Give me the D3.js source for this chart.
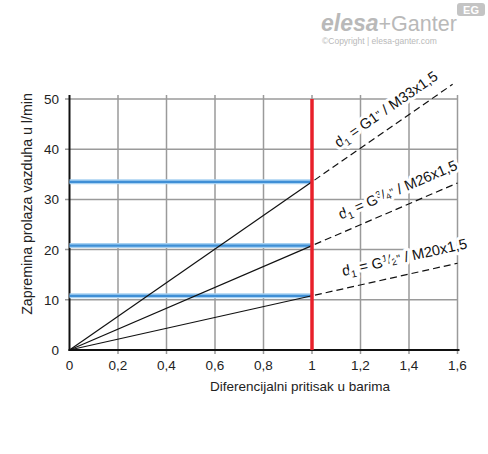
<!DOCTYPE html>
<html>
<head>
<meta charset="utf-8">
<script src="https://cdn.jsdelivr.net/npm/d3@7"></script>
<style>
  body { margin: 0; background: #fff; }
  svg text { font-family: "Liberation Sans", Arial, sans-serif; }
</style>
</head>
<body>
<div id="chart"></div>
<script>
// chart data
var xTicks = [0, 0.2, 0.4, 0.6, 0.8, 1, 1.2, 1.4, 1.6];
var yTicks = [0, 10, 20, 30, 40, 50];
var refPressure = 1;
var flows = [33.5, 20.8, 10.8];           // l/min at 1 bar
var dashEnds = [1.58, 1.6, 1.6];          // where the dashed extension stops
var sizeWhole = ["1", "", ""];            // G1"
var sizeNum = ["", "3", "1"];             // G3/4", G1/2"
var sizeDen = ["", "4", "2"];
var threads = ["M33x1,5", "M26x1,5", "M20x1,5"];

var svgWidth = 488;
var svgHeight = 454;

var svg = d3.select("#chart")
  .append("svg")
  .attr("width", svgWidth)
  .attr("height", svgHeight);

var x = d3.scaleLinear().domain([0, 1.6]).range([69.5, 457.5]);
var y = d3.scaleLinear().domain([0, 50]).range([350, 99]);

var grey = "#9a9a9a";

// grid
svg.append("g").selectAll("line")
  .data(xTicks.slice(1))
  .enter().append("line")
  .attr("x1", d => x(d)).attr("x2", d => x(d))
  .attr("y1", 95).attr("y2", 354)
  .attr("stroke", grey).attr("stroke-width", 1.5);

svg.append("g").selectAll("line")
  .data(yTicks.slice(1))
  .enter().append("line")
  .attr("x1", 65).attr("x2", x(1.6))
  .attr("y1", d => y(d)).attr("y2", d => y(d))
  .attr("stroke", grey).attr("stroke-width", 1.5);

// axes (black)
svg.append("line")
  .attr("x1", x(0)).attr("x2", x(0))
  .attr("y1", 95).attr("y2", y(0) + 1)
  .attr("stroke", "#111").attr("stroke-width", 2);
svg.append("line")
  .attr("x1", x(0) - 1).attr("x2", x(1.6) + 2)
  .attr("y1", y(0)).attr("y2", y(0))
  .attr("stroke", "#111").attr("stroke-width", 2);

// tick labels
svg.append("g").selectAll("text")
  .data(xTicks)
  .enter().append("text")
  .attr("x", d => x(d))
  .attr("y", 370)
  .attr("text-anchor", "middle")
  .attr("font-size", 13.5)
  .attr("fill", "#222")
  .text(d => String(d).replace(".", ","));

svg.append("g").selectAll("text")
  .data(yTicks)
  .enter().append("text")
  .attr("x", 59)
  .attr("y", d => y(d) + 5)
  .attr("text-anchor", "end")
  .attr("font-size", 13.5)
  .attr("fill", "#222")
  .text(d => d);

// axis titles
svg.append("text")
  .attr("x", 300).attr("y", 391)
  .attr("text-anchor", "middle")
  .attr("font-size", 13.5)
  .attr("fill", "#222")
  .text("Diferencijalni pritisak u barima");

svg.append("text")
  .attr("transform", "translate(32,204) rotate(-90)")
  .attr("text-anchor", "middle")
  .attr("font-size", 14.2)
  .attr("fill", "#222")
  .text("Zapremina prolaza vazduha u l/min");

// labels along the lines (white halo breaks the grid)
flows.forEach(function(f, i) {
  var a = Math.atan2(y(f * 1.6) - y(0), x(1.6) - x(0));
  var t0 = 1.14;
  var off = 12.5;
  var px = x(t0) + Math.sin(a) * off;
  var py = y(f * t0) - Math.cos(a) * off;
  var txt = svg.append("text")
    .attr("transform", `translate(${px},${py}) rotate(${a * 180 / Math.PI})`)
    .attr("font-size", 14.6)
    .attr("fill", "#111")
    .attr("stroke", "#fff")
    .attr("stroke-width", 6)
    .attr("stroke-linejoin", "round")
    .attr("paint-order", "stroke");
  txt.append("tspan").text("d");
  txt.append("tspan").attr("dy", 3.5).attr("font-size", 10).text("1");
  txt.append("tspan").attr("dy", -3.5).text(" = G" + sizeWhole[i]);
  if (sizeNum[i]) {
    txt.append("tspan").attr("dy", -5).attr("font-size", 9.5).text(sizeNum[i]);
    txt.append("tspan").attr("dy", 3).attr("font-size", 12.5).text("/");
    txt.append("tspan").attr("dy", 2.5).attr("font-size", 9.5).text(sizeDen[i]);
    txt.append("tspan").attr("dy", -1.5).attr("font-size", 11).text('"');
    txt.append("tspan").attr("dy", 1).text(" / " + threads[i]);
  } else {
    txt.append("tspan").attr("font-size", 11).attr("dy", -1).text('"');
    txt.append("tspan").attr("dy", 1).text(" / " + threads[i]);
  }
});

// blue horizontal reference lines
var blue = svg.append("g");
flows.forEach(function(f) {
  blue.append("line")
    .attr("x1", x(0)).attr("x2", x(refPressure))
    .attr("y1", y(f)).attr("y2", y(f))
    .attr("stroke", "#a9d2f2").attr("stroke-width", 5);
  blue.append("line")
    .attr("x1", x(0)).attr("x2", x(refPressure))
    .attr("y1", y(f)).attr("y2", y(f))
    .attr("stroke", "#3f8fd6").attr("stroke-width", 2.2);
});

// flow lines: solid to 1 bar, dashed beyond
flows.forEach(function(f, i) {
  svg.append("line")
    .attr("x1", x(0)).attr("y1", y(0))
    .attr("x2", x(refPressure)).attr("y2", y(f * refPressure))
    .attr("stroke", "#111").attr("stroke-width", 1.2);
  svg.append("line")
    .attr("x1", x(refPressure)).attr("y1", y(f * refPressure))
    .attr("x2", x(dashEnds[i])).attr("y2", y(f * dashEnds[i]))
    .attr("stroke", "#111").attr("stroke-width", 1.2)
    .attr("stroke-dasharray", "7,4")
    .attr("stroke-dashoffset", -3);
});

// red line at 1 bar
svg.append("line")
  .attr("x1", x(refPressure)).attr("x2", x(refPressure))
  .attr("y1", y(50)).attr("y2", y(0))
  .attr("stroke", "#e8202a").attr("stroke-width", 3.5);

// logo
var logo = svg.append("g").attr("fill", "#b9b9b9");
logo.append("text")
  .attr("x", 321).attr("y", 31)
  .attr("font-size", 21.5)
  .html('<tspan font-weight="bold" font-style="italic" font-size="23">elesa</tspan>+Ganter');
logo.append("text")
  .attr("x", 322).attr("y", 44)
  .attr("font-size", 8.5)
  .text("©Copyright | elesa-ganter.com");
logo.append("rect")
  .attr("x", 457).attr("y", 3)
  .attr("width", 28).attr("height", 13)
  .attr("rx", 3)
  .attr("fill", "#c4c4c4");
logo.append("text")
  .attr("x", 471).attr("y", 14)
  .attr("text-anchor", "middle")
  .attr("font-size", 11)
  .attr("font-weight", "bold")
  .attr("fill", "#fff")
  .text("EG");
</script>
</body>
</html>
